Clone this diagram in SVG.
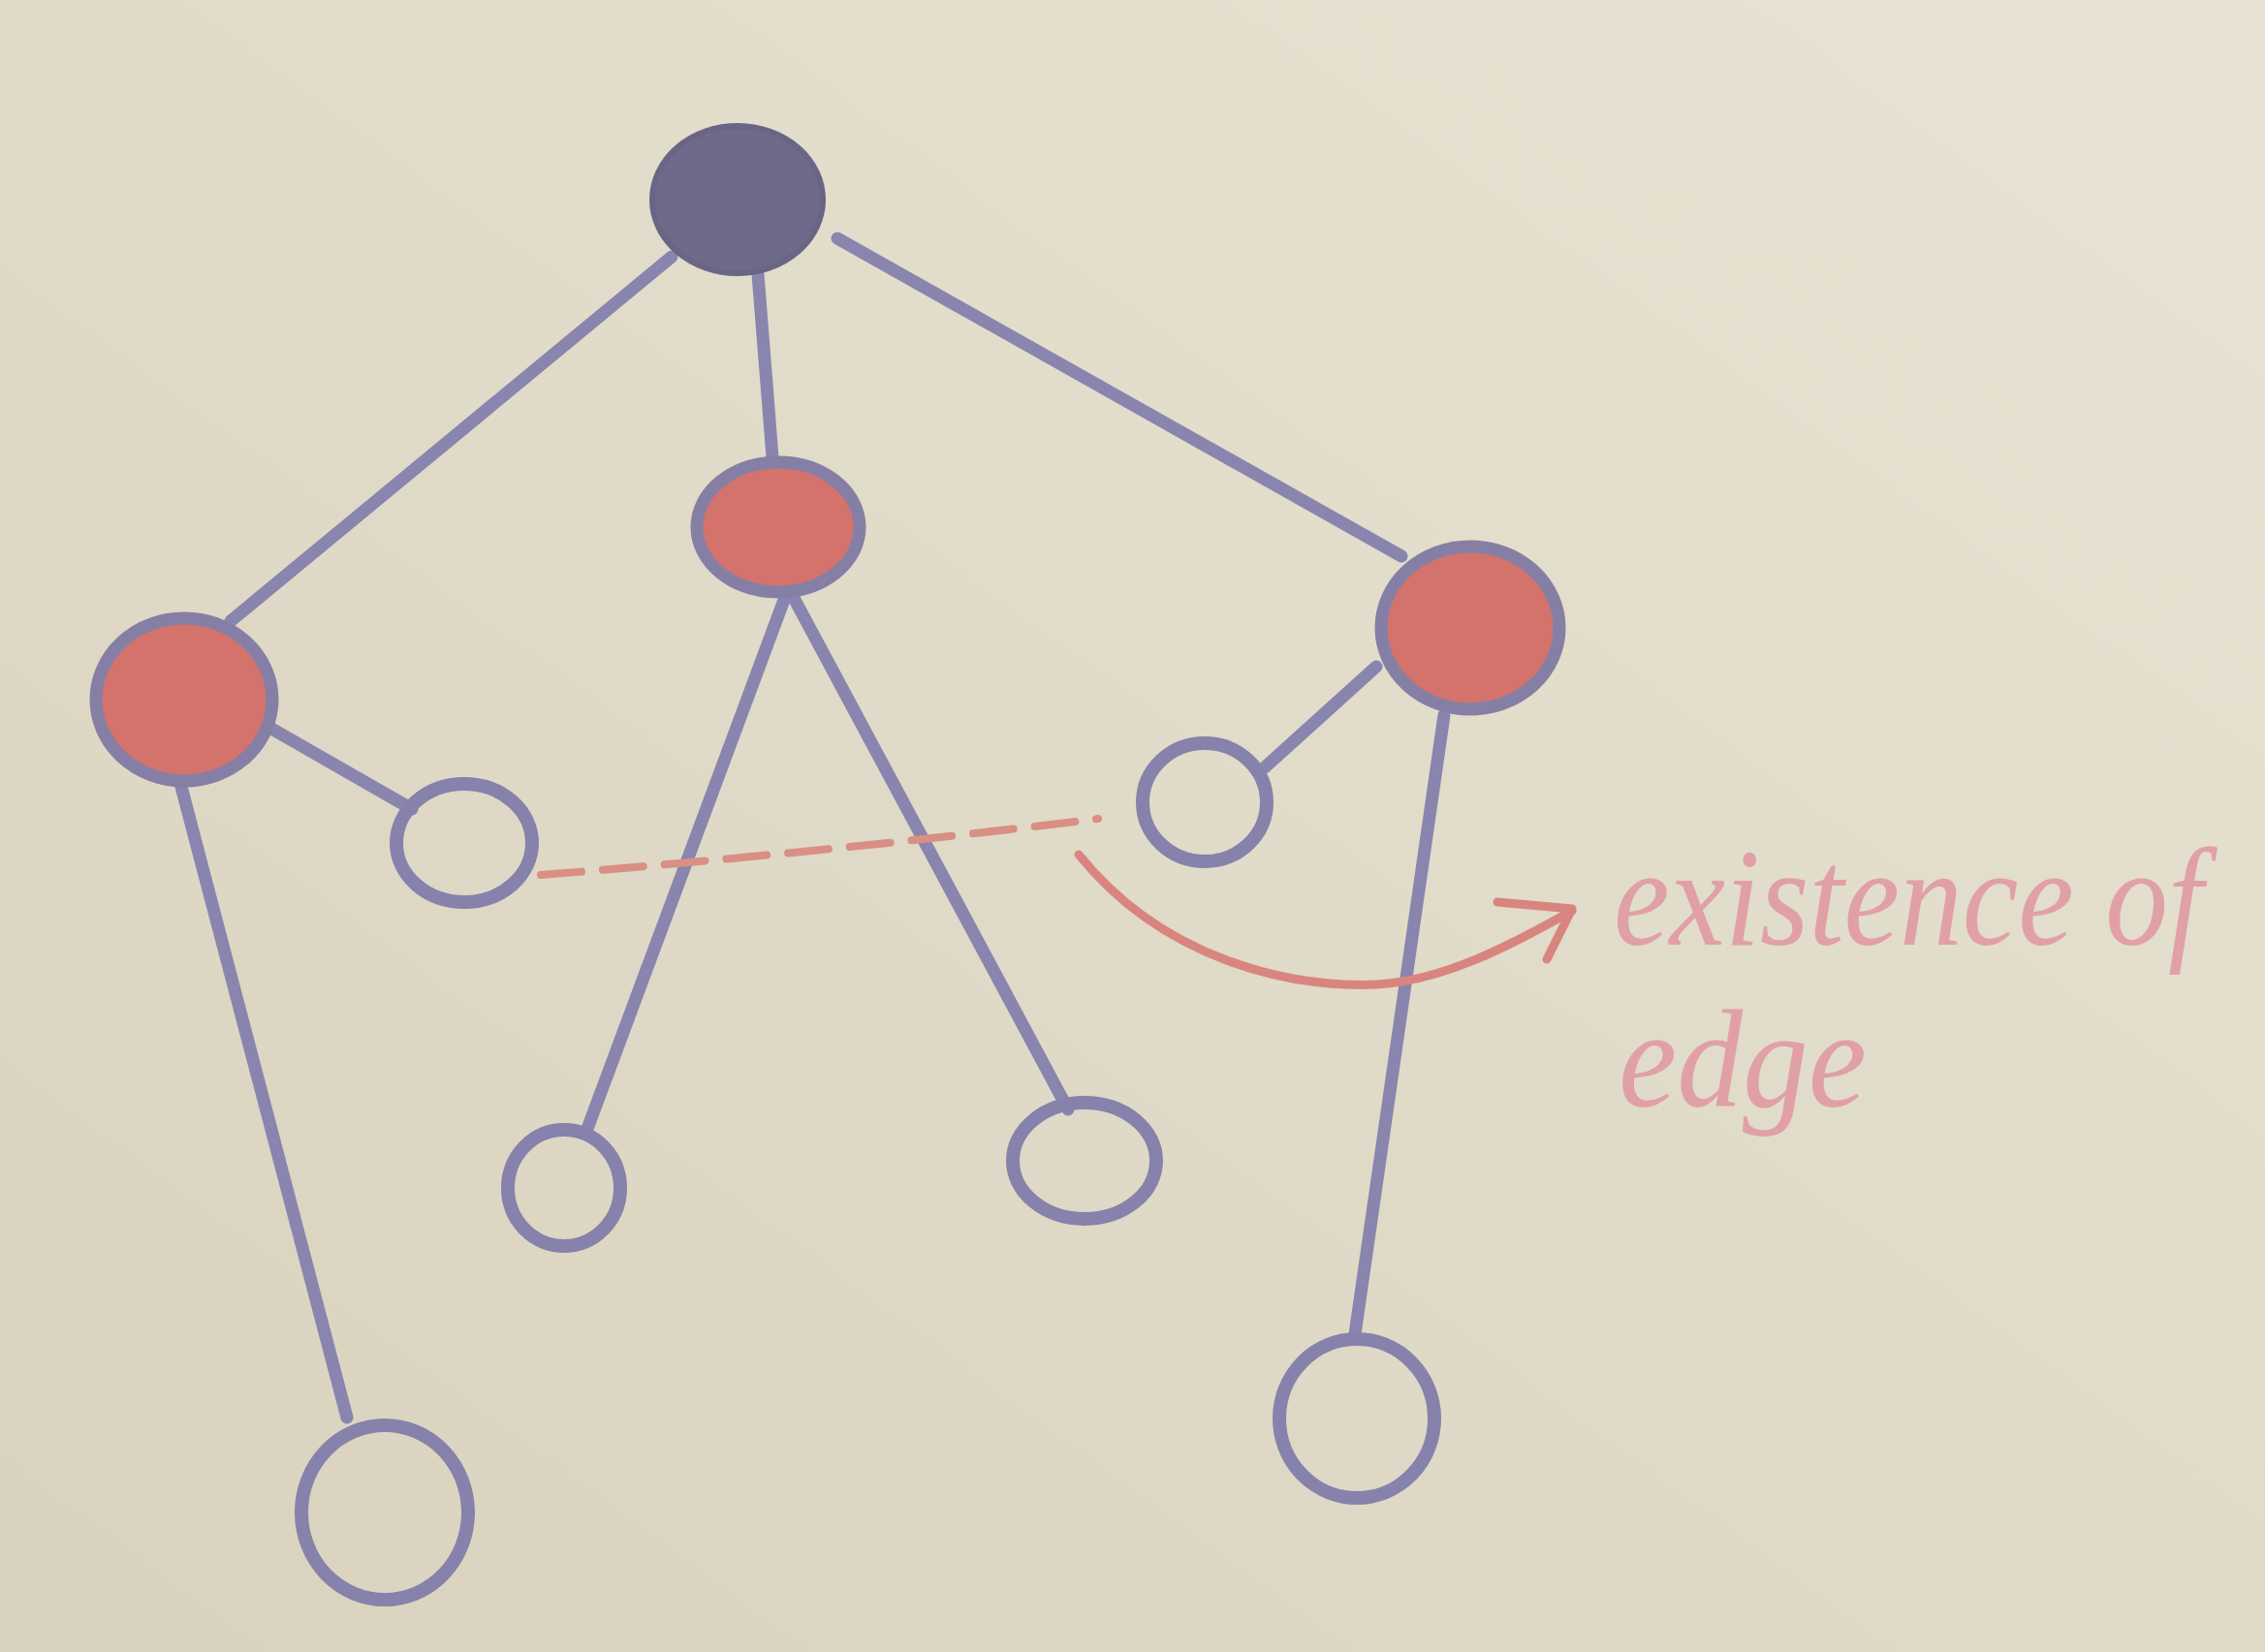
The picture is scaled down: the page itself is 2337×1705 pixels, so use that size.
<svg xmlns="http://www.w3.org/2000/svg" width="2337" height="1705" viewBox="0 0 2337 1705">
<defs>
<linearGradient id="bg" x1="0" y1="1" x2="1" y2="0">
<stop offset="0" stop-color="#d9d2be"/>
<stop offset="0.6" stop-color="#e2dccb"/>
<stop offset="1" stop-color="#e8e3d2"/>
</linearGradient>
<style>
.edge{stroke:#8985ae;stroke-width:13;stroke-linecap:round;fill:none}
.leaf{fill:none;stroke:#8682ab;stroke-width:14}
.inner{fill:#d3736c;stroke:#857fa6;stroke-width:13}
.root{fill:#6f6a89;stroke:#6a6584;stroke-width:6}
.dash{stroke:#d98f84;stroke-width:8;stroke-dasharray:42 22;stroke-linecap:round;fill:none}
.arrow{stroke:#d9857f;stroke-width:9;stroke-linecap:round;stroke-linejoin:round;fill:none}
.label{font-family:"Liberation Serif",serif;font-style:italic;fill:#e0a0a6;font-size:145px}
</style>
</defs>
<rect width="2337" height="1705" fill="url(#bg)"/>
<g id="connectors">
<line class="edge" x1="693" y1="265" x2="238" y2="641"/>
<line class="edge" x1="782" y1="283" x2="797" y2="472"/>
<line class="edge" x1="864" y1="246" x2="1446" y2="574"/>
<line class="edge" x1="268" y1="745" x2="425" y2="835"/>
<line class="edge" x1="186" y1="808" x2="358" y2="1463"/>
<line class="edge" x1="812" y1="611" x2="606" y2="1165"/>
<line class="edge" x1="820" y1="619" x2="1102" y2="1145"/>
<line class="edge" x1="1420" y1="688" x2="1305" y2="792"/>
<line class="edge" x1="1490" y1="738" x2="1398" y2="1377"/>
<path class="dash" d="M558 903 Q850 880 1133 845"/>
<path class="arrow" d="M1113 882 C1200 990 1330 1020 1421 1016 C1490 1012 1560 975 1622 940"/>
<path class="arrow" d="M1545 931 L1622 938 L1596 990"/>
</g>
<g id="root"><ellipse class="root" cx="761" cy="206" rx="88" ry="76"/></g>
<g id="inner-left"><ellipse class="inner" cx="190" cy="722" rx="91" ry="84"/></g>
<g id="inner-mid"><ellipse class="inner" cx="803" cy="544" rx="84" ry="67"/></g>
<g id="inner-right"><ellipse class="inner" cx="1517" cy="648" rx="92" ry="84"/></g>
<g id="leaf-left-small"><ellipse class="leaf" cx="479" cy="870" rx="70" ry="61"/></g>
<g id="leaf-right-small"><ellipse class="leaf" cx="1243" cy="828" rx="64" ry="61"/></g>
<g id="leaf-mid-left"><ellipse class="leaf" cx="582" cy="1226" rx="58" ry="60"/></g>
<g id="leaf-mid-right"><ellipse class="leaf" cx="1119" cy="1198" rx="74" ry="60"/></g>
<g id="leaf-bottom-left"><ellipse class="leaf" cx="397" cy="1561" rx="86" ry="90"/></g>
<g id="leaf-bottom-right"><ellipse class="leaf" cx="1400" cy="1464" rx="80" ry="82"/></g>
<g id="label">
<text class="label" transform="translate(1665 975) scale(0.8 1)" x="0" y="0" textLength="760" lengthAdjust="spacingAndGlyphs">existence of</text>
<text class="label" transform="translate(1670 1142) scale(0.8 1)" x="0" y="0" textLength="320" lengthAdjust="spacingAndGlyphs">edge</text>
</g>
</svg>
